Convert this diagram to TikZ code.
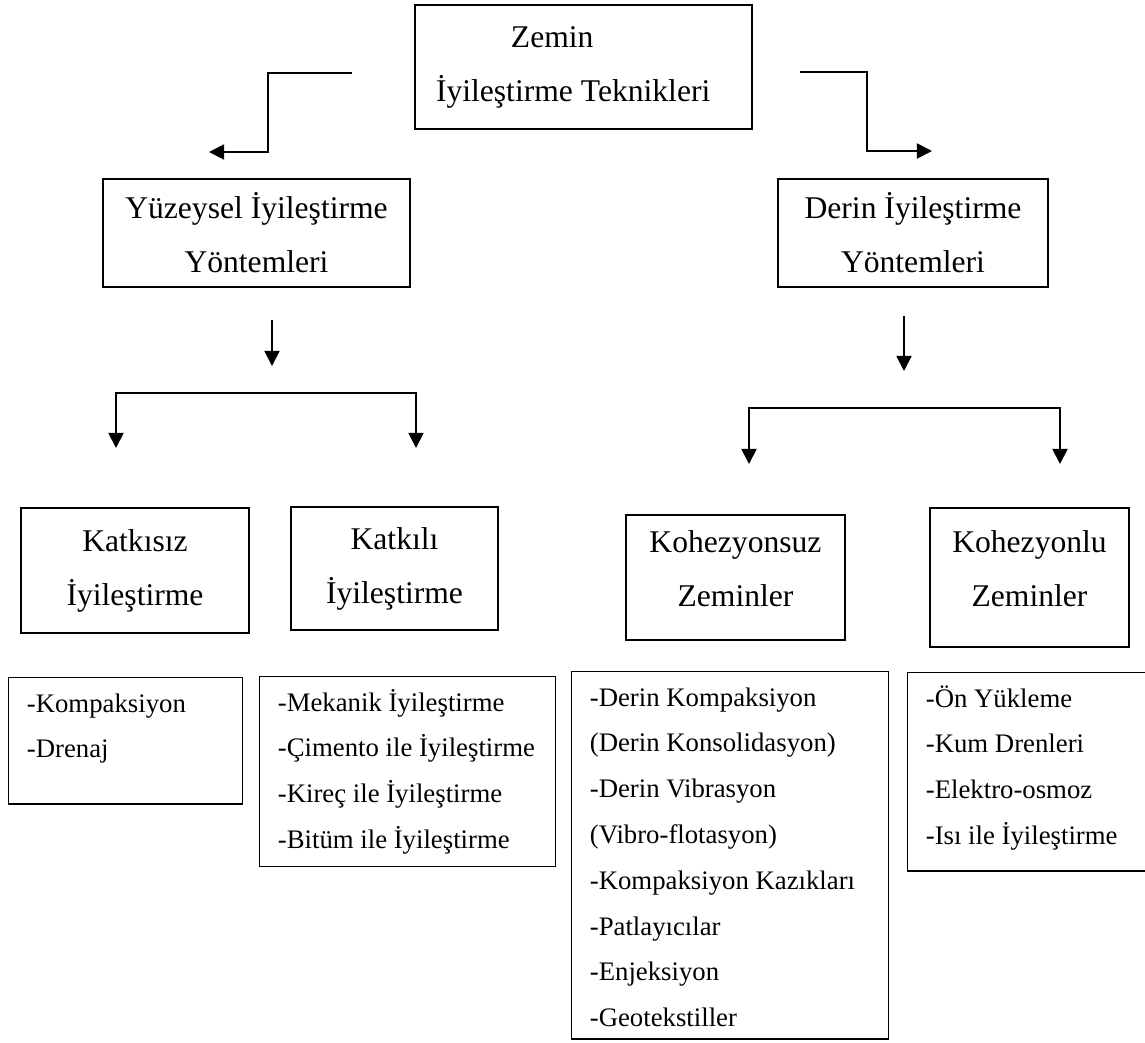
\documentclass[tikz,border=0pt]{standalone}
\usepackage{fontspec}
\setmainfont{Liberation Serif}
\usetikzlibrary{arrows.meta, positioning, calc}
\newcommand{\px}{0.4935pt}
\newcommand{\buyuk}{\fontsize{15.6}{26.6}\selectfont}
\newcommand{\liste}{\fontsize{13.2}{22.6}\selectfont}
% son satıra derinlik ekler
\newcommand{\alt}[1]{\rule[-#1]{0pt}{#1}}
\tikzset{
  kutu/.style={draw, line width=0.65pt, align=flush center, font=\buyuk, inner sep=0pt},
  listekutu/.style={draw, line width=0.65pt, align=flush left, font=\liste, anchor=north west,
    inner xsep=9pt, inner ysep=6pt, execute at begin node={\rule{0pt}{11pt}}},
  ok/.style={line width=0.9pt, -{Triangle[length=7.5pt,width=7.5pt]}},
  catal/.style={line width=0.9pt, {Triangle[length=7.5pt,width=7.5pt]}-{Triangle[length=7.5pt,width=7.5pt]}},
}

\begin{document}
\begin{tikzpicture}[x=0.4935pt, y=-0.4935pt]
    \clip (0,0) rectangle (1145,1043);

    % ana kutu ve ikinci seviye
    \node[kutu, align=flush left, text width=295*\px, inner xsep=21*\px, minimum height=124*\px]
        (ana) at (583.5,67) {\hspace*{37pt}Zemin\\İyileştirme Teknikleri};
    \node[kutu, minimum width=307*\px, minimum height=108*\px] (yuzey) at (256.5,233)
        {Yüzeysel İyileştirme\\Yöntemleri};
    \node[kutu, minimum width=270*\px, minimum height=108*\px] (derin) at (913,233)
        {Derin İyileştirme\\Yöntemleri};

    % üçüncü seviye
    \node[kutu, minimum width=228*\px, minimum height=125*\px] (katkisiz) at (135,570.5)
        {Katkısız\\İyileştirme};
    \node[kutu, minimum width=207*\px, minimum height=123*\px] (katkili) at (394.5,568.5)
        {Katkılı\\İyileştirme};
    \node[kutu, minimum width=219*\px, minimum height=125*\px] (kohsuz) at (735.5,577.5)
        {Kohezyonsuz\\Zeminler\alt{9pt}};
    \node[kutu, minimum width=199*\px, minimum height=139*\px] (kohlu) at (1029.5,577.5)
        {Kohezyonlu\\Zeminler\alt{9pt}};

    % yöntem listeleri
    \node[listekutu, text width=234*\px-18pt] (kompliste) at (8,677)
        {-Kompaksiyon\\-Drenaj\alt{16.7pt}};
    \node[listekutu, text width=296*\px-18pt] (mekliste) at (259,676)
        {-Mekanik İyileştirme\\-Çimento ile İyileştirme\\-Kireç ile İyileştirme\\-Bitüm ile İyileştirme\alt{3pt}};
    \node[listekutu, text width=317*\px-18pt] (derinliste) at (571,671)
        {-Derin Kompaksiyon\\(Derin Konsolidasyon)\\-Derin Vibrasyon\\(Vibro-flotasyon)\\-Kompaksiyon Kazıkları\\-Patlayıcılar\\-Enjeksiyon\\-Geotekstiller};
    \node[listekutu, text width=260*\px-18pt] (onliste) at (907,672)
        {-Ön Yükleme\\-Kum Drenleri\\-Elektro-osmoz\\-Isı ile İyileştirme\alt{7pt}};

    % oklar
    \coordinate (solbas) at (352,73);
    \coordinate (soluc) at (209,152);
    \coordinate (sagbas) at (800,72);
    \coordinate (saguc) at (932,151);
    \draw[ok] (solbas) -- ++(-84,0) |- (soluc);
    \draw[ok] (sagbas) -- ++(67,0) |- (saguc);

    \coordinate (yo1) at (272,320);
    \coordinate (yo2) at (272,366);
    \coordinate (do1) at (904,316);
    \coordinate (do2) at (904,371);
    \draw[ok] (yo1) -- (yo2);
    \draw[ok] (do1) -- (do2);

    % çatallar
    \coordinate (katuc1) at (116,448);
    \coordinate (katuc2) at (416,448);
    \coordinate (kohuc1) at (749,464);
    \coordinate (kohuc2) at (1060,464);
    \draw[catal] (katuc1) |- ($(katuc2)+(0,-55)$) -- (katuc2);
    \draw[catal] (kohuc1) |- ($(kohuc2)+(0,-56)$) -- (kohuc2);
\end{tikzpicture}
\end{document}
